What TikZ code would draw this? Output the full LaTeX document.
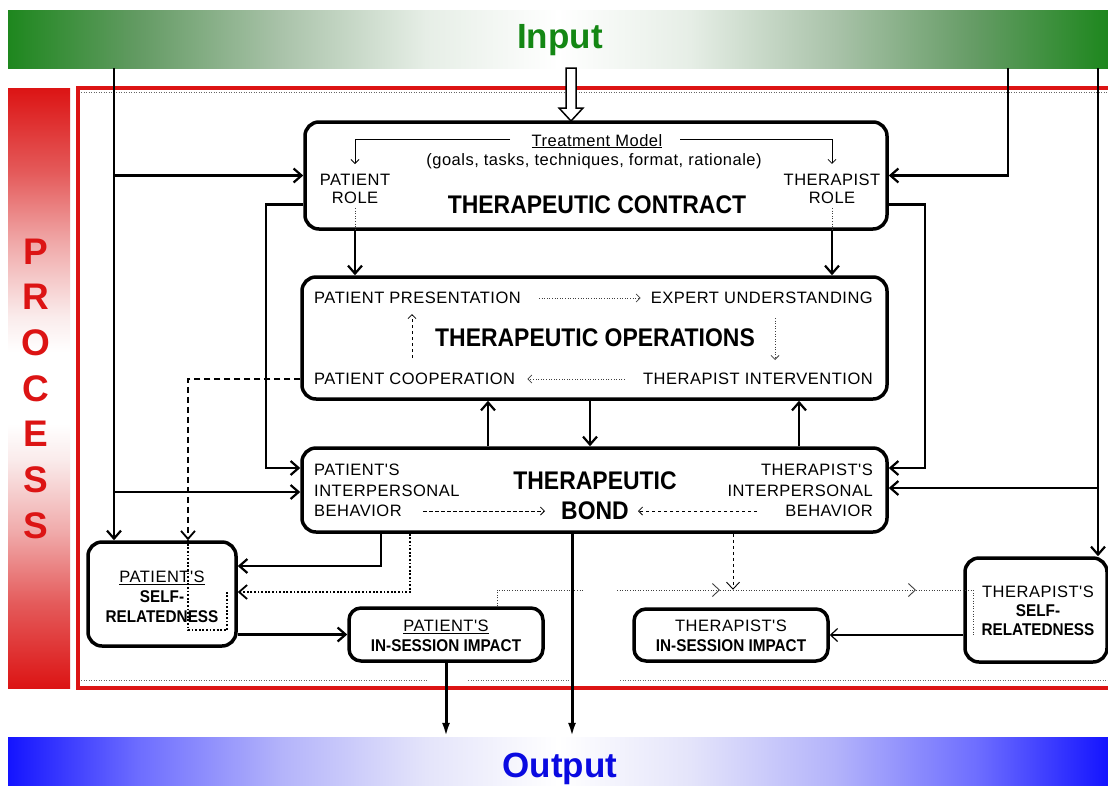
\documentclass[tikz,border=0pt]{standalone}
\usepackage{fontspec}
\setmainfont{Liberation Sans}
\newfontfamily\condfont[FakeStretch=0.9]{Liberation Sans}
\newfontfamily\lblfont[LetterSpace=3]{Liberation Sans}
\usetikzlibrary{arrows.meta}

\definecolor{ingreen}{RGB}{30,135,30}
\definecolor{inga}{RGB}{100,155,100}
\definecolor{ingb}{RGB}{170,195,170}
\definecolor{ingc}{RGB}{230,238,230}
\definecolor{intext}{RGB}{20,135,20}
\definecolor{outblue}{RGB}{20,20,255}
\definecolor{oba}{RGB}{110,110,255}
\definecolor{obb}{RGB}{180,180,250}
\definecolor{obc}{RGB}{228,228,250}
\definecolor{outtext}{RGB}{10,10,225}
\definecolor{procred}{RGB}{220,20,20}
\definecolor{pra}{RGB}{228,90,90}
\definecolor{prb}{RGB}{240,170,170}
\definecolor{prc}{RGB}{250,235,235}

\pgfdeclarehorizontalshading{inshade}{100bp}{color(0bp)=(ingreen); color(25bp)=(ingreen); color(31bp)=(inga); color(37.5bp)=(ingb); color(44bp)=(ingc); color(50bp)=(white); color(56bp)=(ingc); color(62.5bp)=(ingb); color(69bp)=(inga); color(75bp)=(ingreen); color(100bp)=(ingreen)}
\pgfdeclarehorizontalshading{outshade}{100bp}{color(0bp)=(outblue); color(25bp)=(outblue); color(31bp)=(oba); color(37.5bp)=(obb); color(44bp)=(obc); color(50bp)=(white); color(56bp)=(obc); color(62.5bp)=(obb); color(69bp)=(oba); color(75bp)=(outblue); color(100bp)=(outblue)}
\pgfdeclareverticalshading{procshade}{100bp}{color(0bp)=(procred); color(25bp)=(procred); color(32bp)=(pra); color(38bp)=(prb); color(44bp)=(prc); color(47bp)=(white); color(53bp)=(white); color(56bp)=(prc); color(62bp)=(prb); color(68bp)=(pra); color(75bp)=(procred); color(100bp)=(procred)}

\newcommand\mybold{\condfont\bfseries\fontsize{17}{20}\selectfont}

\begin{document}
\begin{tikzpicture}[x=1pt,y=-1pt,
  box/.style={draw, line width=3.5pt, rounded corners=14pt, inner sep=0pt, fill=white},
  lbl/.style={inner sep=0pt, font=\lblfont\fontsize{16.5}{20}\selectfont},
  ttl/.style={inner sep=0pt, font=\condfont\bfseries\fontsize{25.5}{30}\selectfont},
  bigword/.style={inner sep=0pt, font=\bfseries\fontsize{35}{40}\selectfont},
  procletter/.style={inner sep=0pt, anchor=base, text=procred, font=\bfseries\fontsize{37}{40}\selectfont},
  conn/.style={line width=2.2pt, -{Straight Barb[length=8pt,width=14pt]}},
  thinconn/.style={line width=1.2pt, -{Straight Barb[length=7pt,width=13pt]}},
  outarr/.style={line width=3pt, -{Latex[length=14pt,width=8pt]}},
  thinarr/.style={line width=0.8pt, -{Straight Barb[length=4pt,width=8pt]}},
  tipsmall/.style={-{Straight Barb[length=4pt,width=8pt,line width=0.8pt]}},
  tipmid/.style={-{Straight Barb[length=7pt,width=13pt,line width=0.9pt]}},
  dotline/.style={line width=0.9pt, black!75, dash pattern=on 1pt off 1.6pt},
  dotbold/.style={line width=1.8pt, dash pattern=on 1.8pt off 1.8pt},
  dashthin/.style={line width=1pt, dash pattern=on 3.5pt off 2.5pt},
  dashbold/.style={line width=1.8pt, dash pattern=on 6pt off 4pt},
  boldtip/.style={-{Straight Barb[length=8pt,width=14pt,line width=1.8pt]}}
]
\useasboundingbox (0,0) rectangle (1108,785);
\fill[white] (0,0) rectangle (1108,785);

% ---- bands: input, output, process ----
\node[shading=inshade, minimum width=1100pt, minimum height=58pt, inner sep=0pt] (input) at (558,39) {};
\node[bigword, anchor=base, text=intext] (intxt) at (560,48) {Input};
\node[shading=outshade, minimum width=1100pt, minimum height=48pt, inner sep=0pt] (output) at (558,761) {};
\node[bigword, anchor=base, text=outtext] (outtxt) at (560,777) {Output};
\shade[shading=procshade] (8,88) rectangle (70,688);
\foreach \ch [count=\i from 0] in {P,R,O,C,E,S,S}
  \node[procletter] (proc\i) at (36,{264+45.7*\i}) {\ch};

% process frame
\draw[procred, line width=3.5pt] (78,88) rectangle (1115,688);
\draw[black!60, line width=0.6pt, dash pattern=on 1pt off 1.5pt] (81,92) -- (1108,92);
\draw[black!60, line width=0.6pt, dash pattern=on 1pt off 1.5pt] (81,680) -- (428,680);
\draw[black!60, line width=0.6pt, dash pattern=on 1pt off 1.5pt] (468,680) -- (572,680);
\draw[black!60, line width=0.6pt, dash pattern=on 1pt off 1.5pt] (620,680) -- (1108,680);

% ---- boxes ----
\node[box, minimum width=582pt, minimum height=107pt] (contract) at (596,175.5) {};
\node[box, minimum width=585pt, minimum height=122pt] (ops) at (594.5,338) {};
\node[box, minimum width=585pt, minimum height=84pt] (bond) at (594.5,490) {};
\node[box, minimum width=148pt, minimum height=104pt] (pself) at (162,594) {};
\node[box, minimum width=194pt, minimum height=53pt, rounded corners=12pt] (pimp) at (446,634.5) {};
\node[box, minimum width=194pt, minimum height=52pt, rounded corners=12pt] (timp) at (731,635) {};
\node[box, minimum width=142pt, minimum height=104pt] (tself) at (1036,610) {};

% ---- texts: therapeutic contract ----
\node[lbl, anchor=base] (tm) at (597,146) {\underline{Treatment Model}};
\node[lbl, anchor=base] (goals) at (594,165) {(goals, tasks, techniques, format, rationale)};
\node[lbl, align=center, font=\lblfont\fontsize{16.5}{18}\selectfont] (prole) at (355,189) {PATIENT\\ROLE};
\node[lbl, align=center, font=\lblfont\fontsize{16.5}{18}\selectfont] (trole) at (832,189) {THERAPIST\\ROLE};
\node[ttl] (ctitle) at (597,205) {THERAPEUTIC CONTRACT};

% ---- texts: therapeutic operations ----
\node[lbl, anchor=west] (pp) at (314,298) {PATIENT PRESENTATION};
\node[lbl, anchor=east] (eu) at (873,298) {EXPERT UNDERSTANDING};
\node[ttl] (otitle) at (595,338) {THERAPEUTIC OPERATIONS};
\node[lbl, anchor=west] (pc) at (314,379) {PATIENT COOPERATION};
\node[lbl, anchor=east] (ti) at (873,379) {THERAPIST INTERVENTION};

% ---- texts: therapeutic bond ----
\node[lbl, align=left, anchor=west, font=\lblfont\fontsize{16.5}{20.5}\selectfont] (pib) at (314,490.5) {PATIENT'S\\INTERPERSONAL\\BEHAVIOR};
\node[lbl, align=right, anchor=east, font=\lblfont\fontsize{16.5}{20.5}\selectfont] (tib) at (873,490.5) {THERAPIST'S\\INTERPERSONAL\\BEHAVIOR};
\node[ttl, align=center] (btitle) at (595,496) {THERAPEUTIC\\BOND};

% ---- texts: small boxes ----
\node[lbl, align=center] (pstxt) at (162,596.5) {\underline{PATIENT'S}\\{\mybold SELF-}\\{\mybold RELATEDNESS}};
\node[lbl, align=center] (pitxt) at (446,636) {\underline{PATIENT'S}\\{\mybold IN-SESSION IMPACT}};
\node[lbl, align=center] (titxt) at (731,636) {THERAPIST'S\\{\mybold IN-SESSION IMPACT}};
\node[lbl, align=center, font=\lblfont\fontsize{16.5}{19}\selectfont] (tstxt) at (1038,611) {THERAPIST'S\\{\condfont\bfseries\fontsize{17}{19}\selectfont SELF-}\\{\condfont\bfseries\fontsize{17}{19}\selectfont RELATEDNESS}};

% ---- coordinates for bends and free ends ----
\coordinate (inL) at (114,68);
\coordinate (inR) at (1008,68);
\coordinate (inRR) at (1098,68);
\coordinate (jL) at (114,492);
\coordinate (jR) at (1098,488);
\coordinate (cL) at (266,468);
\coordinate (cR) at (925,468);
\coordinate (tmL) at (510,139);
\coordinate (tmR) at (680,139);
\coordinate (oU1) at (412,358);
\coordinate (oU2) at (412,314);
\coordinate (oD1) at (775,318);
\coordinate (oD2) at (775,360);
\coordinate (bL1) at (423,511);
\coordinate (bL2) at (545,511);
\coordinate (bR1) at (757,511);
\coordinate (bR2) at (638,511);
\coordinate (d1) at (583,590);
\coordinate (d2) at (617,590);
\coordinate (d3) at (720,590);
\coordinate (d4) at (916,590);
\coordinate (d5) at (973,590);

% ---- input arrow into the contract ----
\draw[line width=1.5pt, fill=white] (566,68) -- (566,108) -- (559,108) -- (571,121) -- (583,108) -- (576,108) -- (576,68) -- cycle;

% ---- connectors from the input ----
\draw[conn] (inL) -- (inL |- pself.north);
\draw[conn] (inL |- contract.west) -- (contract.west);
\draw[conn] (jL) -- (jL -| bond.west);
\draw[conn] (inR) |- (contract.east);
\draw[conn] (inRR) -- (inRR |- tself.north);
\draw[conn] (jR) -- (jR -| bond.east);

% ---- contract to operations and bond ----
\draw[conn] ([yshift=-29pt]contract.west) -| (cL) -- (cL -| bond.west);
\draw[conn] ([yshift=-29pt]contract.east) -| (cR) -- (cR -| bond.east);
\draw[conn] (prole.south |- contract.south) -- (prole.south |- ops.north);
\draw[conn] (trole.south |- contract.south) -- (trole.south |- ops.north);

% ---- operations and bond ----
\draw[conn] ([xshift=-4.5pt]ops.south) -- ([xshift=-4.5pt]bond.north);
\draw[conn] ([xshift=-106.5pt]bond.north) -- ([xshift=-106.5pt]ops.south);
\draw[conn] ([xshift=204.5pt]bond.north) -- ([xshift=204.5pt]ops.south);

% ---- bond to the self-relatedness and impact boxes ----
\draw[conn] ([xshift=-213.5pt]bond.south) |- ([yshift=28pt]pself.east);
\draw[dotbold, boldtip] ([xshift=-184.5pt]bond.south) |- ([yshift=2pt]pself.east);
\draw[dashbold, boldtip] ([yshift=-41pt]ops.west) -| ([xshift=26pt]pself.north);
\draw[dotbold] ([xshift=26pt]pself.north) -- ++(0,90) -- ++(39,0) -- ++(0,-40);
\draw[conn] (pself.east |- pimp.west) -- (pimp.west);
\draw[dashthin, tipmid] ([xshift=138.5pt]bond.south) -- ++(0,56);
\draw[dotline] ([xshift=51pt]pimp.north) |- (d1);
\draw[dotline, tipmid] (d2) -- (d3);
\draw[dotline, tipmid] (d3) -- (d4);
\draw[dotline] (d4) -- (d5) -- (d5 |- timp.east);
\draw[thinconn] (tself.west |- timp.east) -- (timp.east);

% ---- output ----
\draw[outarr] (pimp.south) -- (pimp.south |- output.north);
\draw[outarr] ([xshift=-22.5pt]bond.south) -- ([xshift=-22.5pt]bond.south |- output.north);

% ---- arrows inside the boxes ----
\draw[thinarr] (tmL) -| ([yshift=10pt]prole.north);
\draw[thinarr] (tmR) -| ([yshift=10pt]trole.north);
\draw[dotline] ([yshift=-4pt]prole.south) -- (prole.south |- contract.south);
\draw[dotline] ([yshift=-4pt]trole.south) -- (trole.south |- contract.south);
\draw[dotline, tipsmall] ([xshift=18pt]pp.east) -- ([xshift=-10pt]eu.west);
\draw[dotline, tipsmall] ([xshift=-18pt]ti.west) -- ([xshift=12pt]pc.east);
\draw[dashthin, tipsmall] (oU1) -- (oU2);
\draw[dotline, tipsmall] (oD1) -- (oD2);
\draw[dashthin, tipsmall] (bL1) -- (bL2);
\draw[dashthin, tipsmall] (bR1) -- (bR2);
\end{tikzpicture}
\end{document}
